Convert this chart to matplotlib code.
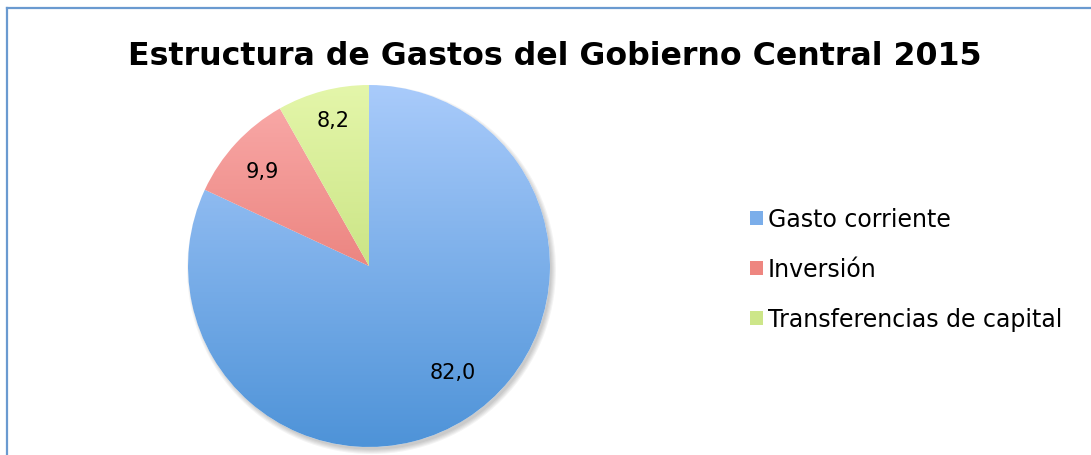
"""
Estructura de Gastos del Gobierno Central 2015 - gráfico de pastel
"""

import numpy as np
import matplotlib
matplotlib.use('Agg')
import matplotlib.pyplot as plt
from matplotlib.colors import LinearSegmentedColormap
from matplotlib.patches import Patch, Circle
from matplotlib.lines import Line2D

plt.rcParams['font.family'] = ['DejaVu Sans']

# datos
categorias = ['Gasto corriente', 'Inversión', 'Transferencias de capital']
valores = [82.0, 9.9, 8.2]
etiquetas = ['82,0', '9,9', '8,2']
titulo = 'Estructura de Gastos del Gobierno Central 2015'

# colores (arriba -> abajo del degradado)
col_arriba = ['#A9CBFB', '#FAACAB', '#E4F6AA']
col_abajo = ['#4E93D8', '#DE5F57', '#B3D463']
col_leyenda = ['#7BAEEA', '#EE8680', '#CDE689']
# posición de etiquetas: distancia al centro y ajuste de ángulo (grados)
dist_etiqueta = [0.744, 0.79, 0.83]
ajuste_ang = [5.7, 1.1, -1.0]

W, H = 1091, 456
fig = plt.figure(figsize=(W / 100, H / 100), dpi=100)

# marco (solo izquierda y arriba visibles)
borde = '#6A9AD0'
fig.add_artist(Line2D([7 / W, 7 / W], [0, 1 - 9 / H], color=borde, lw=1.6, transform=fig.transFigure))
fig.add_artist(Line2D([7 / W, 1], [1 - 9 / H, 1 - 9 / H], color=borde, lw=1.6, transform=fig.transFigure))

fig.text(555 / W, 1 - 65 / H, titulo, ha='center', va='baseline',
         fontsize=22.8, fontweight='bold')

# pastel
cx, cy, r = 369, 267, 181
ax = fig.add_axes([(cx - r) / W, (H - cy - r) / H, 2 * r / W, 2 * r / H])
ax.set_aspect('equal')
ax.axis('off')

# sombra suave (abajo a la derecha)
for k in range(5):
    ax.add_patch(Circle((0.014, -0.02), 0.995 + 0.006 * k, color='black',
                        alpha=0.045, lw=0, zorder=0, clip_on=False))
ax.add_patch(Circle((0, 0), 1.0, color='white', lw=0, zorder=0.5))

wedges, _ = ax.pie(valores, startangle=90, counterclock=False, radius=1,
                   wedgeprops=dict(linewidth=0))

grad = np.linspace(0, 1, 256).reshape(-1, 1)
for w, ca, cb in zip(wedges, col_arriba, col_abajo):
    w.set_facecolor('none')
    cmap = LinearSegmentedColormap.from_list('g', [ca, cb])
    im = ax.imshow(grad, cmap=cmap, extent=[-1, 1, -1, 1], origin='upper',
                   aspect='auto', zorder=1)
    im.set_clip_path(w)

for w, txt, d, da in zip(wedges, etiquetas, dist_etiqueta, ajuste_ang):
    ang = np.deg2rad((w.theta1 + w.theta2) / 2 + da)
    ax.text(d * np.cos(ang), d * np.sin(ang), txt, ha='center', va='center',
            fontsize=15, zorder=3)

ax.set_xlim(-1, 1)
ax.set_ylim(-1, 1)

handles = [Patch(facecolor=c, edgecolor='none') for c in col_leyenda]
fig.legend(handles, categorias, loc='center left', bbox_to_anchor=(750 / W, 1 - 270 / H),
           frameon=False, fontsize=17, handlelength=0.55, handleheight=0.55,
           handletextpad=0.2, labelspacing=1.1, borderaxespad=0, borderpad=0)

fig.savefig('out.png', dpi=100)
